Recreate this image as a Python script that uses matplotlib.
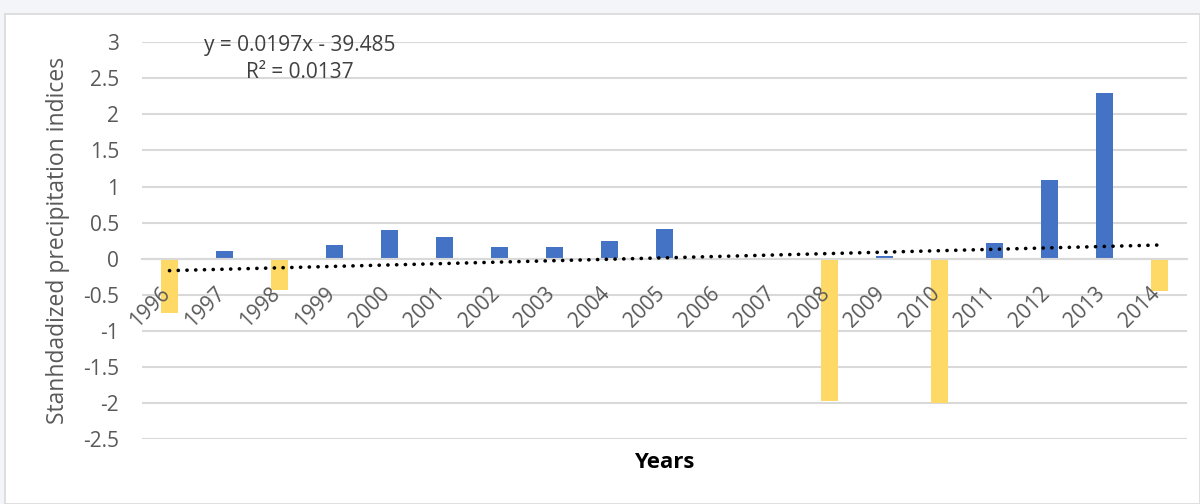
import numpy as np
from matplotlib import pyplot as plt
from matplotlib.patches import Rectangle
from matplotlib.transforms import offset_copy

years = [1996, 1997, 1998, 1999, 2000, 2001, 2002, 2003, 2004, 2005,
         2006, 2007, 2008, 2009, 2010, 2011, 2012, 2013, 2014]
spi = [-0.75, 0.11, -0.43, 0.19, 0.40, 0.30, 0.17, 0.17, 0.25, 0.41,
       0.0, 0.0, -1.97, 0.04, -1.99, 0.22, 1.09, 2.30, -0.44]
# trendline as printed on the chart
slope = 0.0197
intercept = -39.485
r2 = 0.0137
ytick_vals = [3, 2.5, 2, 1.5, 1, 0.5, 0, -0.5, -1, -1.5, -2, -2.5]

plt.rcParams['font.family'] = ['Open Sans', 'DejaVu Sans']
plt.rcParams['axes.unicode_minus'] = False

fig = plt.figure(figsize=(12, 5.04), dpi=100)
fig.patch.set_facecolor('#f3f5f8')
fig.patches.append(Rectangle((0.004, 0.0), 0.996, 0.972, transform=fig.transFigure,
                             facecolor='white', edgecolor='#d9d9d9', lw=1.2, zorder=-10))

ax = fig.add_axes([0.1183, 0.128, 0.8707, 0.7887])
ax.set_zorder(1)
ax.set_facecolor('none')

x = np.arange(len(years))
vals = np.array(spi)
cols = ['#4472C4' if v >= 0 else '#FFD966' for v in vals]
ax.bar(x, vals, width=0.30, color=cols, zorder=2)

trend = slope * np.array(years) + intercept
ax.plot(x, trend, color='black', lw=2.6, linestyle=(0, (0.05, 2.37)),
        dash_capstyle='round', zorder=4)

ax.set_xlim(-0.5, len(years) - 0.5)
ax.set_ylim(-2.5, 3)
ax.set_yticks(ytick_vals)
ax.set_yticklabels(['%g' % v for v in ytick_vals], color='#595959', fontsize=15)
ax.yaxis.grid(True, color='#d9d9d9', lw=1.5, zorder=0)
ax.set_axisbelow(True)
ax.tick_params(axis='y', length=0, pad=16.5)

ax.spines['bottom'].set_position(('data', 0))
ax.spines['bottom'].set_color('#d9d9d9')
ax.spines['bottom'].set_linewidth(1.5)
for s in ['left', 'right', 'top']:
    ax.spines[s].set_visible(False)
ax.set_xticks(x)
ax.set_xticklabels([])
ax.tick_params(axis='x', length=0)

# year labels sit just under the zero line, drawn over the bars
lab_tr = offset_copy(ax.transData, fig=fig, x=-2.5, y=-32, units='dots')
for i, y in enumerate(years):
    ax.text(x[i], 0, str(y), transform=lab_tr, rotation=45, rotation_mode='anchor',
            ha='right', va='center', color='#595959', fontsize=15, zorder=3)

ax.set_ylabel('Stanhdadized precipitation indices', color='#595959', fontsize=16.5)
ax.yaxis.set_label_coords(-0.069, 0.5)
fig.text(0.5537, 1 - 462 / 504, 'Years', fontsize=16, fontweight='bold',
         ha='center', va='center', color='black')

fig.text(300 / 1200, 1 - 45 / 504, 'y = 0.0197x - 39.485', fontsize=15,
         ha='center', va='center', color='#404040')
fig.text(300 / 1200, 1 - 73 / 504, 'R² = %.4f' % r2, fontsize=15,
         ha='center', va='center', color='#404040')

fig.savefig('out.png', dpi=100)
